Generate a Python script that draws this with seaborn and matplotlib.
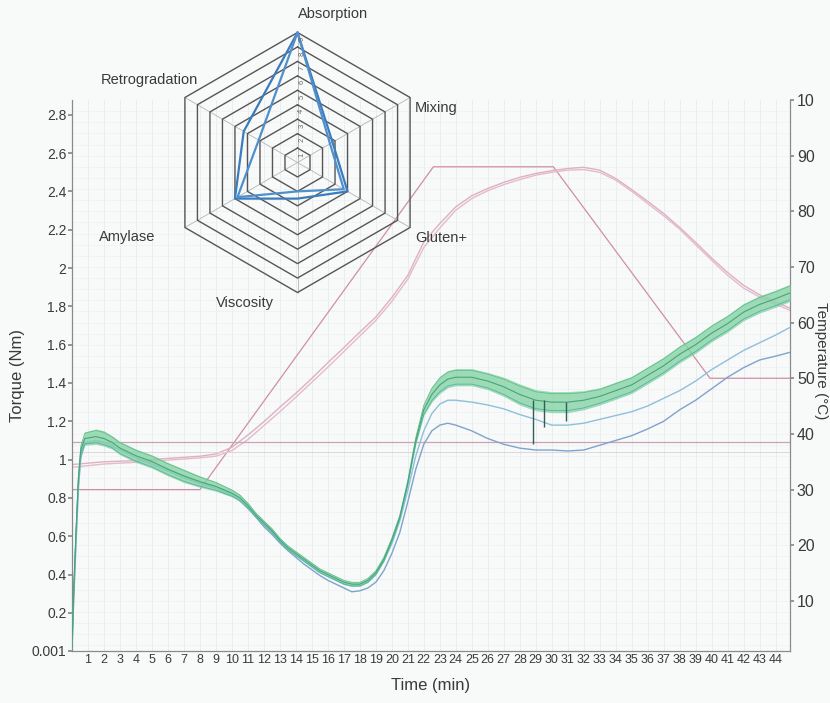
import numpy as np
import pandas as pd
import matplotlib
matplotlib.use("Agg")
import matplotlib.pyplot as plt
import seaborn as sns

# ---------------- torque traces (Nm) ----------------
time_min = [0, 0.1, 0.25, 0.4, 0.55, 0.8, 1.5, 2, 2.5, 3, 4, 5, 6, 7, 8, 9, 10,
            10.5, 11, 11.5, 12, 12.5, 13, 13.5, 14, 14.5, 15, 15.5, 16, 16.5, 17,
            17.5, 18, 18.5, 19, 19.5, 20, 20.5, 21, 21.5, 22, 22.5, 23, 23.5, 24,
            25, 26, 27, 28, 29, 30, 31, 32, 33, 34, 35, 36, 37, 38, 39, 40, 41,
            42, 43, 44, 44.9]

torque_green = [0.02, 0.30, 0.62, 0.90, 1.05, 1.11, 1.12, 1.11, 1.09, 1.06, 1.02,
                0.99, 0.95, 0.915, 0.885, 0.86, 0.825, 0.80, 0.76, 0.71, 0.67,
                0.63, 0.58, 0.54, 0.51, 0.48, 0.45, 0.42, 0.40, 0.38, 0.36, 0.35,
                0.35, 0.37, 0.41, 0.48, 0.58, 0.70, 0.88, 1.10, 1.26, 1.34, 1.39,
                1.42, 1.43, 1.43, 1.41, 1.38, 1.34, 1.31, 1.30, 1.30, 1.31, 1.33,
                1.36, 1.39, 1.44, 1.49, 1.55, 1.60, 1.66, 1.71, 1.77, 1.81, 1.84,
                1.87]

# half width of the noisy green trace
green_spread = [0.01, 0.01, 0.01, 0.015, 0.025, 0.035, 0.04, 0.04, 0.035, 0.035,
                0.035, 0.035, 0.035, 0.035, 0.03, 0.025, 0.02, 0.018, 0.015,
                0.013, 0.012, 0.012, 0.012, 0.012, 0.012, 0.012, 0.012, 0.012,
                0.012, 0.012, 0.012, 0.012, 0.012, 0.012, 0.012, 0.012, 0.012,
                0.012, 0.012, 0.02, 0.03, 0.04, 0.045, 0.045, 0.045, 0.045, 0.045,
                0.05, 0.055, 0.055, 0.055, 0.055, 0.05, 0.045, 0.045, 0.045, 0.045,
                0.045, 0.045, 0.045, 0.045, 0.045, 0.045, 0.045, 0.045, 0.045]

torque_mid = [0.02, 0.28, 0.60, 0.88, 1.03, 1.09, 1.10, 1.09, 1.075, 1.05, 1.01,
              0.98, 0.945, 0.91, 0.88, 0.855, 0.82, 0.79, 0.75, 0.705, 0.66, 0.62,
              0.575, 0.535, 0.50, 0.47, 0.44, 0.41, 0.39, 0.37, 0.35, 0.34, 0.345,
              0.36, 0.40, 0.47, 0.56, 0.68, 0.84, 1.02, 1.15, 1.24, 1.29, 1.31,
              1.31, 1.30, 1.285, 1.265, 1.235, 1.21, 1.18, 1.18, 1.19, 1.21, 1.23,
              1.25, 1.28, 1.32, 1.36, 1.41, 1.47, 1.52, 1.57, 1.61, 1.65, 1.69]

torque_low = [0.01, 0.25, 0.56, 0.85, 1.01, 1.08, 1.10, 1.09, 1.07, 1.05, 1.01,
              0.975, 0.94, 0.905, 0.875, 0.85, 0.815, 0.785, 0.745, 0.70, 0.65,
              0.61, 0.565, 0.525, 0.49, 0.455, 0.425, 0.395, 0.37, 0.35, 0.33,
              0.31, 0.315, 0.33, 0.36, 0.42, 0.51, 0.62, 0.78, 0.95, 1.08, 1.15,
              1.18, 1.19, 1.18, 1.15, 1.11, 1.08, 1.06, 1.05, 1.05, 1.045, 1.05,
              1.075, 1.10, 1.125, 1.16, 1.20, 1.26, 1.31, 1.37, 1.43, 1.48, 1.52,
              1.54, 1.56]

spike_time = [28.8, 29.5, 30.9]
spike_low = [1.08, 1.17, 1.20]
spike_high = [1.31, 1.31, 1.30]

# ---------------- temperature (°C) ----------------
target_time = [0, 8, 22.6, 30.1, 39.9, 44.9]
target_temp = [30, 30, 88, 88, 50, 50]

dough_time = [0, 2, 4, 6, 8, 9, 10, 11, 12, 13, 14, 15, 16, 17, 18, 19, 20, 21,
              22, 23, 24, 25, 26, 27, 28, 29, 30, 31, 32, 33, 34, 35, 36, 37, 38,
              39, 40, 41, 42, 43, 44, 44.9]
dough_temp_1 = [34.5, 35.0, 35.2, 35.6, 36.0, 36.4, 37.6, 39.8, 42.2, 44.8, 47.3,
                50.0, 52.8, 55.5, 58.3, 61.0, 64.5, 68.5, 74.5, 77.8, 80.8, 82.8,
                84.1, 85.2, 86.1, 86.8, 87.3, 87.7, 87.9, 87.4, 85.9, 83.9, 81.8,
                79.6, 77.1, 74.4, 71.6, 69.0, 66.7, 65.0, 63.7, 62.6]
dough_temp_2 = [34.0, 34.6, 34.9, 35.3, 35.7, 36.0, 37.0, 39.0, 41.5, 44.0, 46.6,
                49.3, 52.0, 54.8, 57.6, 60.4, 63.8, 67.8, 73.5, 77.0, 80.2, 82.3,
                83.7, 84.8, 85.7, 86.5, 87.0, 87.4, 87.5, 87.0, 85.6, 83.6, 81.4,
                79.2, 76.8, 74.0, 71.2, 68.5, 66.2, 64.6, 63.3, 62.2]

torque_target = [1.09, 1.04]

# ---------------- profile (radar) ----------------
profile_axes = ["Absorption", "Mixing", "Gluten+", "Viscosity", "Amylase",
                "Retrogradation"]
profile_a = [9, 2.8, 4.0, 2.5, 5.0, 4.3]
profile_b = [9, 2.6, 3.7, 2.0, 4.8, 3.1]
profile_levels = list(range(1, 10))

# ---------------- axis labels ----------------
torque_ticks = [0.001, 0.2, 0.4, 0.6, 0.8, 1, 1.2, 1.4, 1.6, 1.8, 2, 2.2, 2.4, 2.6, 2.8]
torque_ticklabels = ["0.001", "0.2", "0.4", "0.6", "0.8", "1", "1.2", "1.4", "1.6",
                     "1.8", "2", "2.2", "2.4", "2.6", "2.8"]
temp_ticks = [10, 20, 30, 40, 50, 60, 70, 80, 90, 100]
temp_ticklabels = ["10", "20", "30", "40", "50", "60", "70", "80", "90", "10"]
time_ticks = list(range(1, 45))

sns.set_theme(style="white")
plt.rcParams["font.family"] = ["Liberation Sans", "DejaVu Sans"]

BG = "#f8f9f9"
TXT = "#3a3a3a"

fig = plt.figure(figsize=(8.3, 7.03), dpi=100, facecolor=BG)
W, H = 830, 703
ax = fig.add_axes([72 / W, 52 / H, 718 / W, 551 / H])
ax2 = ax.twinx()
ax.set_zorder(ax2.get_zorder() + 1)
ax.patch.set_visible(False)
ax2.patch.set_facecolor(BG)
ax2.patch.set_visible(True)

ax.set_xlim(0, 44.9)
ax.set_ylim(0.001, 2.877)
ax2.set_ylim(1.0, 100.0)

# faint background grid
for t in time_ticks:
    ax2.axvline(t, color="#e6ebee", lw=0.6, zorder=0)
for v in np.arange(2, 100, 2):
    ax2.axhline(v, color="#edf0f2", lw=0.5, zorder=0)

# temperature profile and dough temperature
sns.lineplot(x=target_time, y=target_temp, ax=ax2, color="#cf8fa5", lw=0.9,
             estimator=None, sort=False)
sns.lineplot(x=dough_time, y=dough_temp_1, ax=ax2, color="#dfb0c2", lw=1.0,
             estimator=None, sort=False)
sns.lineplot(x=dough_time, y=dough_temp_2, ax=ax2, color="#e3bccb", lw=1.0,
             estimator=None, sort=False)

# torque reference lines
ax.axhline(torque_target[0], color="#c9a4b4", lw=0.9, zorder=1)
ax.axhline(torque_target[1], color="#dcd0d6", lw=0.6, zorder=1)

# torque traces
sns.lineplot(x=time_min, y=torque_low, ax=ax, color="#7fa3cc", lw=1.0,
             estimator=None, sort=False)
sns.lineplot(x=time_min, y=torque_mid, ax=ax, color="#8ec0da", lw=1.0,
             estimator=None, sort=False)
g = np.array(torque_green)
s = np.array(green_spread)
ax.fill_between(time_min, g - s, g + s, color="#86d3a6", alpha=0.8, lw=0, zorder=3)
sns.lineplot(x=time_min, y=list(g + s * 0.8), ax=ax, color="#62bf8a", lw=0.6,
             estimator=None, sort=False, zorder=4)
sns.lineplot(x=time_min, y=list(g - s * 0.8), ax=ax, color="#55b3a2", lw=0.6,
             estimator=None, sort=False, zorder=4)
sns.lineplot(x=time_min, y=torque_green, ax=ax, color="#47a47a", lw=0.8,
             estimator=None, sort=False, zorder=4)
ax.vlines(spike_time, spike_low, spike_high, color="#2f5f55", lw=1.0, zorder=5)

# axes styling
for sp in ["top", "right"]:
    ax.spines[sp].set_visible(False)
for sp in ["top", "left", "bottom"]:
    ax2.spines[sp].set_visible(False)
for sp in [ax.spines["left"], ax.spines["bottom"], ax2.spines["right"]]:
    sp.set_color("#8a8a8a")
    sp.set_linewidth(0.9)

ax.set_xticks(time_ticks)
ax.set_xticklabels([str(t) for t in time_ticks], fontsize=9, color=TXT)
ax.tick_params(axis="x", direction="in", length=3, pad=2, color="#8a8a8a")
ax.set_yticks(torque_ticks)
ax.set_yticklabels(torque_ticklabels, fontsize=10, color=TXT)
ax.tick_params(axis="y", direction="out", length=3, pad=1, color="#8a8a8a")
ax2.set_yticks(temp_ticks)
ax2.set_yticklabels(temp_ticklabels, fontsize=11.5, color=TXT)
ax2.tick_params(axis="y", direction="out", length=3, pad=2, color="#8a8a8a")

ax.set_xlabel("Time (min)", fontsize=12, color=TXT, labelpad=9)
ax.set_ylabel("Torque (Nm)", fontsize=12, color=TXT)
ax.yaxis.set_label_coords(-0.0655, 0.5)
ax2.set_ylabel("")
fig.text(814 / W, 1 - 361 / H, "Temperature (°C)", rotation=270, ha="left",
         va="center", fontsize=11, color=TXT)

# ---------------- radar of quality indices ----------------
cx, cy, unit = 297.5, 162.5, 130 / 9
rx0, rx1, ry0, ry1 = 90, 470, 0, 320
rad = fig.add_axes([rx0 / W, 1 - ry1 / H, (rx1 - rx0) / W, (ry1 - ry0) / H])
rad.set_xlim((rx0 - cx) / unit, (rx1 - cx) / unit)
rad.set_ylim((cy - ry1) / unit, (cy - ry0) / unit)
rad.axis("off")
rad.patch.set_visible(False)
rad.set_zorder(ax.get_zorder() + 1)

angles = np.deg2rad([90, 30, -30, -90, -150, 150])
cosA, sinA = np.cos(angles), np.sin(angles)
ring_cos = list(cosA) + [cosA[0]]
ring_sin = list(sinA) + [sinA[0]]

for a in angles:
    rad.plot([0, 9 * np.cos(a)], [0, 9 * np.sin(a)], color="#b4b4b4", lw=0.6)
for lev in profile_levels:
    rad.plot([lev * c for c in ring_cos], [lev * s_ for s_ in ring_sin],
             color="#555555", lw=1.0)
    rad.text(0.3, lev - 0.45, str(lev), rotation=90, fontsize=5.5, color="#666666",
             ha="center", va="center")

for vals, col in [(profile_a, "#3a7cbd"), (profile_b, "#4f8fcc")]:
    px = [v * c for v, c in zip(vals, cosA)]
    py = [v * s_ for v, s_ in zip(vals, sinA)]
    sns.lineplot(x=px + [px[0]], y=py + [py[0]], ax=rad, color=col, lw=1.6,
                 estimator=None, sort=False)

def px2data(x, y):
    return (x - cx) / unit, (cy - y) / unit

label_pos = {
    "Absorption": ((298, 14), "left"),
    "Mixing": ((415, 108), "left"),
    "Gluten+": ((415, 238), "left"),
    "Viscosity": ((245, 303), "center"),
    "Amylase": ((127, 237), "center"),
    "Retrogradation": ((149, 80), "center"),
}
for name in profile_axes:
    (x, y), ha = label_pos[name]
    dx, dy = px2data(x, y)
    rad.text(dx, dy, name, fontsize=10.5, color=TXT, ha=ha, va="center")

fig.savefig("out.png", dpi=100, facecolor=BG)
